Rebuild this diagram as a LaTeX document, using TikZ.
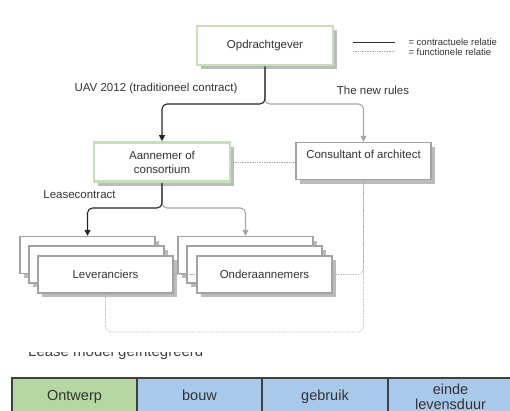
\documentclass[tikz,border=0pt]{standalone}
\usepackage{fontspec}
\setmainfont{Liberation Sans}
\usetikzlibrary{arrows.meta,positioning,shadows}

\definecolor{boxgreen}{HTML}{C5E0B4}
\definecolor{boxgray}{HTML}{A3A3A3}
\definecolor{shadowgray}{HTML}{BBBBBB}
\definecolor{txtgray}{HTML}{333333}
\definecolor{fungray}{HTML}{A6A6A6}
\definecolor{cellgreen}{HTML}{B5D8A2}
\definecolor{cellblue}{HTML}{A9C9EA}
\definecolor{cellline}{HTML}{404040}

\begin{document}
\begin{tikzpicture}[
	x = 1pt, y = -1pt, % one unit per pixel, y downwards
	> = {Triangle[length=6pt, width=6pt]}, % arrow head style
	font = \fontsize{11.5}{14}\selectfont,
	text = txtgray,
	box/.style={rectangle, fill=white, draw=boxgray, line width=1.4pt, inner sep=2pt, minimum width=135pt, minimum height=37pt, align=center,
		drop shadow={shadow xshift=4pt, shadow yshift=-4pt, fill=shadowgray, opacity=1}},  %gray frame
	gbox/.style={box, draw=boxgreen, line width=2.6pt, minimum width=136pt, minimum height=39pt},  %green frame
	contract/.style={->, line width=1.1pt, draw=black!85, rounded corners=5pt},
	lightcontract/.style={contract, draw=gray!70},
	functional/.style={densely dotted, draw=fungray, line width=0.7pt, rounded corners=6pt},
	cell/.style={rectangle, draw=cellline, line width=2pt, minimum width=125.5pt, minimum height=38pt, inner sep=0pt, align=center,
		font=\fontsize{14.5}{15.5}\selectfont},
	onecell/.style={cell, text height=10.5pt, text depth=3pt},
	]
	\clip (0,0) rectangle (510,410);

	% Nodes of the scheme
	\node[gbox] (opd)  at (265,45.5) {Opdrachtgever};
	\node[gbox] (aan)  at (162,162)  {Aannemer of\\consortium};
	\node[box]  (cons) at (363.5,161) {Consultant of architect\\~};

	% stacks of boxes, back to front
	\node[box] (lev3) at (87.5,255)   {};
	\node[box] (lev2) at (96.5,264.5) {};
	\node[box] (lev)  at (105.5,274.5) {Leveranciers};
	\node[box] (ond3) at (245.5,255)  {};
	\node[box] (ond2) at (254.5,264.5) {};
	\node[box] (ond)  at (264.5,274.5) {Onderaannemers};

	% Labels
	\node (uav)      at (156,89)   {UAV 2012 (traditioneel contract)};
	\node (newrules) at (373,90)   {The new rules};
	\node (lease)    at (79.5,195) {Leasecontract};

	% Paths connecting nodes
	\coordinate (split1) at (265,104);
	\coordinate (split2) at (162,208);
	\coordinate (fcorner) at (363.5,332);

	\draw[lightcontract] (opd.south) -- (split1) -| (cons.north);
	\draw[contract]      (opd.south) -- (split1) -| (aan.north);
	\draw[lightcontract] (aan.south) -- (split2) -| (ond3.north);
	\draw[contract]      (aan.south) -- (split2) -| (lev3.north);

	\draw[functional] (aan.east) -- (aan.east -| cons.west);
	\draw[functional] (cons.south) -- (fcorner) -| (lev.south);
	\draw[functional] (ond.east) -| (cons.south);
	\draw[functional] (lev.east) -- (ond.west);

	% Legend
	\coordinate (legA) at (353,42.5);
	\coordinate (legB) at (395,42.5);
	\coordinate (legC) at (353,51);
	\coordinate (legD) at (395,51);
	\draw[line width=1.1pt, draw=black!80] (legA) -- (legB);
	\draw[functional] (legC) -- (legD);
	\node[anchor=west, font=\fontsize{9.5}{10}\selectfont] (legcon) at (405,41.7) {= contractuele relatie};
	\node[anchor=west, font=\fontsize{9.5}{10}\selectfont] (legfun) at (405,51.7) {= functionele relatie};

	% Cut-off caption
	\begin{scope}
		\clip (0,352) rectangle (510,410);
		\node[anchor=base west, inner sep=0pt, text=black!75, font=\fontsize{15}{18}\selectfont] (leasemodel) at (28,356.5) {Lease model geïntegreerd};
	\end{scope}

	% Phases
	\node[onecell, fill=cellgreen] (ontwerp) at (74.5,397)  {Ontwerp};
	\node[onecell, fill=cellblue]  (bouw)    at (199.5,397) {bouw};
	\node[onecell, fill=cellblue]  (gebruik) at (325,397)   {gebruik};
	\node[cell, fill=cellblue]     (einde)   at (450.5,397) {einde\\levensduur};

\end{tikzpicture}
\end{document}
